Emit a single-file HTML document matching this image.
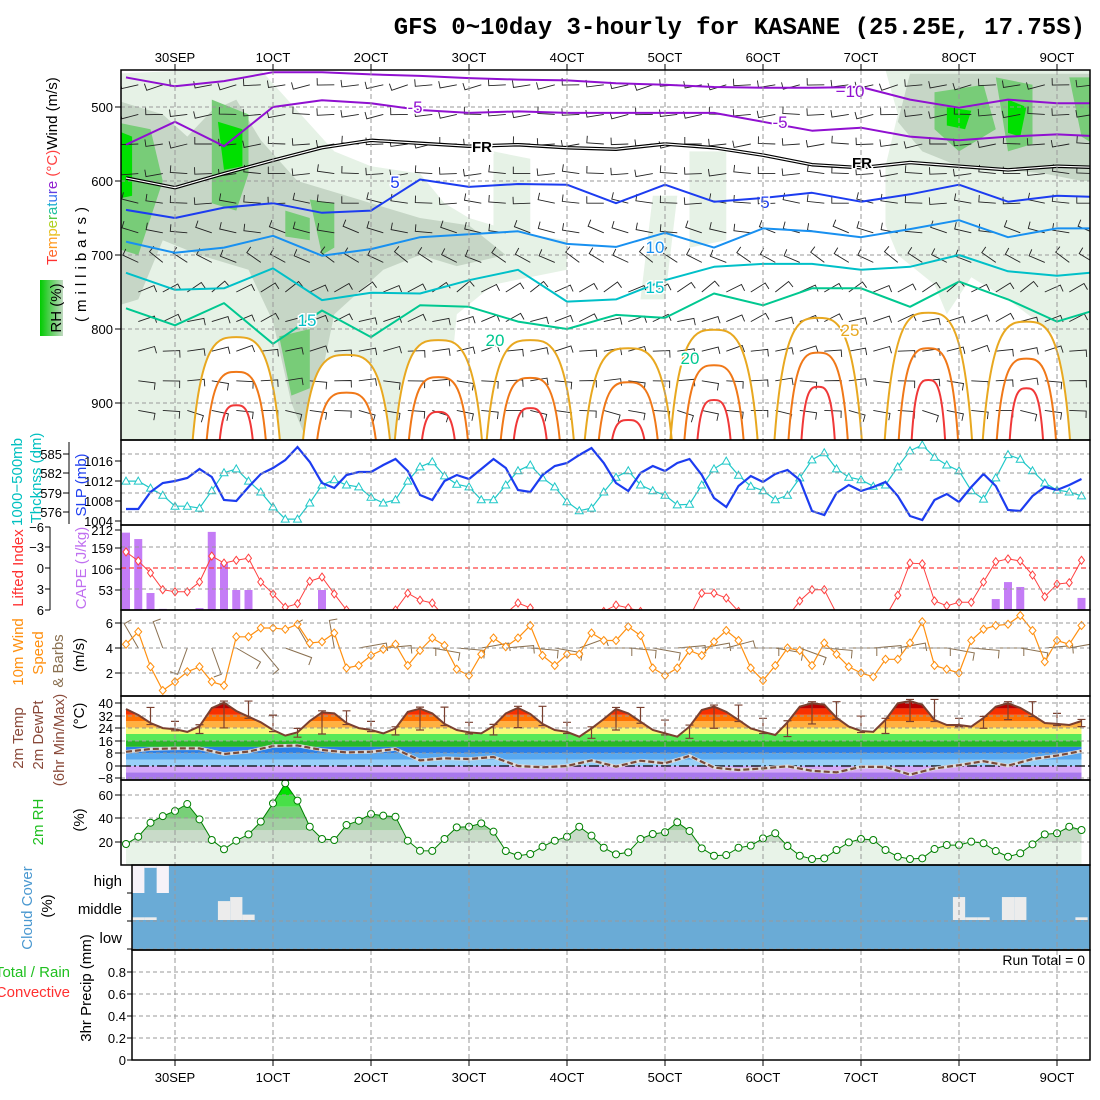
<!DOCTYPE html>
<html><head><meta charset="utf-8"><title>GFS meteogram KASANE</title>
<style>
html,body{margin:0;padding:0;background:#fff;}
svg{display:block;font-family:"Liberation Sans",sans-serif;}
.tk{font-size:13px;fill:#000;}
.lab{font-size:15px;}
</style></head>
<body>
<svg id="chart" xmlns="http://www.w3.org/2000/svg" width="1100" height="1100" viewBox="0 0 1100 1100">
<defs>
<clipPath id="cTop"><rect x="121" y="70" width="969" height="370"/></clipPath>
<clipPath id="cSlp"><rect x="121" y="440" width="969" height="85"/></clipPath>
<clipPath id="cCape"><rect x="121" y="525" width="969" height="85"/></clipPath>
<clipPath id="cWind"><rect x="121" y="610" width="969" height="86"/></clipPath>
<clipPath id="cTemp"><rect x="121" y="696" width="969" height="84"/></clipPath>
<clipPath id="cRh"><rect x="121" y="780" width="969" height="85"/></clipPath>
<linearGradient id="rhg" x1="0" x2="1" y1="0" y2="0"><stop offset="0" stop-color="#00cc00"/><stop offset="0.5" stop-color="#60d060"/><stop offset="1" stop-color="#c0d8c0"/></linearGradient>
</defs>
<rect x="0" y="0" width="1100" height="1100" fill="#fff"/>
<text x="1085" y="34" text-anchor="end" style="font-family:'Liberation Mono',monospace;font-size:24px;font-weight:bold;">GFS 0~10day 3-hourly for KASANE (25.25E, 17.75S)</text>

<g id="gTop" clip-path="url(#cTop)"></g>
<g id="gSlp" clip-path="url(#cSlp)"></g>
<g id="gCape" clip-path="url(#cCape)"></g>
<g id="gWind" clip-path="url(#cWind)"></g>
<g id="gTemp" clip-path="url(#cTemp)"></g>
<g id="gRh" clip-path="url(#cRh)"></g>
<g id="gCloud"></g>
<g id="gGrid"></g>
<g id="gOver"></g>
<g id="gFrames"></g>
<g id="gTicks"></g>

<text class="lab" transform="translate(57,265) rotate(-90)"><tspan fill="#ff3030">T</tspan><tspan fill="#ff6a30">e</tspan><tspan fill="#ff9a20">m</tspan><tspan fill="#e8c020">p</tspan><tspan fill="#b0d020">e</tspan><tspan fill="#50c840">r</tspan><tspan fill="#20c0a0">a</tspan><tspan fill="#20b0d0">t</tspan><tspan fill="#3070f0">u</tspan><tspan fill="#6040e0">r</tspan><tspan fill="#9020d0">e</tspan><tspan fill="#ff4040"> (°C)</tspan><tspan fill="#000">Wind (m/s)</tspan></text>
<rect x="40" y="280" width="23" height="56" fill="url(#rhg)"/>
<text class="lab" transform="translate(61,308) rotate(-90)" text-anchor="middle" fill="#000">RH (%)</text>
<text class="lab" transform="translate(86,262) rotate(-90)" text-anchor="middle" fill="#000" style="letter-spacing:5px">(millibars)</text>

<text class="lab" transform="translate(22,482) rotate(-90)" text-anchor="middle" fill="#00c0c0">1000−500mb</text>
<text class="lab" transform="translate(41,478) rotate(-90)" text-anchor="middle" fill="#00c0c0">Thcknss (dm)</text>
<text class="lab" transform="translate(86,485) rotate(-90)" text-anchor="middle" fill="#2040f0">SLP (mb)</text>
<text class="lab" transform="translate(23,568) rotate(-90)" text-anchor="middle" fill="#ff3030">Lifted Index</text>
<text class="lab" transform="translate(86,568) rotate(-90)" text-anchor="middle" fill="#c070f0">CAPE (J/kg)</text>
<text class="lab" transform="translate(23,652) rotate(-90)" text-anchor="middle" fill="#ff9010">10m Wind</text>
<text class="lab" transform="translate(43,653) rotate(-90)" text-anchor="middle" fill="#ff9010">Speed</text>
<text class="lab" transform="translate(63,661) rotate(-90)" text-anchor="middle" fill="#8a7050">&amp; Barbs</text>
<text class="lab" transform="translate(84,655) rotate(-90)" text-anchor="middle" fill="#000">(m/s)</text>
<text class="lab" transform="translate(23,738) rotate(-90)" text-anchor="middle" fill="#8a4a3a">2m Temp</text>
<text class="lab" transform="translate(43,735) rotate(-90)" text-anchor="middle" fill="#8a4a3a">2m DewPt</text>
<text class="lab" transform="translate(64,740) rotate(-90)" text-anchor="middle" fill="#8a4a3a">(6hr Min/Max)</text>
<text class="lab" transform="translate(84,716) rotate(-90)" text-anchor="middle" fill="#000">(°C)</text>
<text class="lab" transform="translate(43,822) rotate(-90)" text-anchor="middle" fill="#20c020">2m RH</text>
<text class="lab" transform="translate(84,820) rotate(-90)" text-anchor="middle" fill="#000">(%)</text>
<text class="lab" transform="translate(32,908) rotate(-90)" text-anchor="middle" fill="#4a98d0">Cloud Cover</text>
<text class="lab" transform="translate(52,906) rotate(-90)" text-anchor="middle" fill="#000">(%)</text>
<text class="lab" x="70" y="977" text-anchor="end" fill="#20c020">Total / Rain</text>
<text class="lab" x="70" y="997" text-anchor="end" fill="#ff3030">Convective</text>
<text class="lab" transform="translate(91,988) rotate(-90)" text-anchor="middle" fill="#000">3hr Precip (mm)</text>
<text class="tk" x="1085" y="965" text-anchor="end" style="font-size:14px">Run Total = 0</text>
<text class="tk" x="122" y="886" text-anchor="end" style="font-size:15px">high</text>
<text class="tk" x="122" y="914" text-anchor="end" style="font-size:15px">middle</text>
<text class="tk" x="122" y="943" text-anchor="end" style="font-size:15px">low</text>
</svg>

<script>
const dayLabels = ['30SEP','1OCT','2OCT','3OCT','4OCT','5OCT','6OCT','7OCT','8OCT','9OCT'];
const slp = [1006.4,1006.4,1009.8,1011.6,1012,1012.6,1014.4,1012.8,1008.2,1008,
1010.8,1013.4,1014.6,1016.2,1018.8,1015.8,1011.6,1010.6,1013.2,1013.8,
1013.8,1015.2,1016.4,1014,1009.2,1008.2,1012,1013.2,1012.4,1014.4,
1016.4,1014.6,1010.2,1009.8,1013.2,1015,1015.6,1017.2,1018.6,1015.6,
1011.6,1010,1013.6,1015,1014,1015.6,1016.4,1013.2,1008.6,1006.8,
1011,1013,1011.8,1013.4,1014.2,1012.2,1006,1005.2,1009.6,1011.2,
1010,1010.8,1011.8,1009,1005,1004.2,1008.2,1009.4,1007.8,1010.8,
1013.4,1011,1006.2,1006,1009,1010.8,1010.2,1011.2,1012.4];
const thick = [580.8,580.8,579.7,578.6,576.9,576.9,576.6,579.3,582.1,582.7,
580.8,579.1,576.8,574.9,574.9,577.4,580.2,581,580.2,579.9,
578.3,577.4,577.9,580.8,583,583.8,581.6,580.3,579.9,577.9,
577.9,580.2,582.4,583.3,581.3,579.9,577.6,576.2,576.6,579.1,
581.4,582.4,580.2,579.3,578.6,577.1,577.2,580.2,582.7,583.9,
581.7,580,579.3,577.9,578.6,581.3,584.1,585.2,582.7,581.4,
581,580,580.2,583,585.5,586.4,584.5,583.3,582.4,579.3,
578,581.3,584.9,584.2,582.4,580.5,579.4,579.1,578.5];
const liftedIndex = [-2.3,-1,0.7,3.1,3.4,3.4,2,-1.7,-0.7,-1.1,
-1.4,2,3.7,5.6,5.1,1.9,1.3,3.7,6,7,
7,7,6,3.6,4.6,5,7,7,7,7,
7,6.5,5,5.7,7,7,7,7,7,6.2,
5.3,5.7,6.2,7,7,7,7,3.6,3.6,4.3,
6.2,7,7,7,7,4.7,3.1,3.1,6.5,7,
7,7,7,3.9,-0.7,-0.6,4.7,5.4,4.9,4.9,
2,-0.9,-1.3,-1,1,4.1,2.3,2.1,-1.1];
const cape = [205,188,45,3,0,0,5,207,125,53,
53,0,0,0,0,0,53,0,0,0,
0,0,0,0,0,0,0,0,0,0,
0,0,0,0,0,0,0,0,0,0,
0,0,0,0,0,0,0,0,0,0,
0,0,0,0,0,0,0,0,0,0,
0,0,0,0,0,0,0,0,0,0,
0,29,74,61,0,0,0,0,32];
const windSpeed = [4.3,5.3,2.5,0.6,1.3,2.1,2.5,1.3,1,4.9,
4.9,5.6,5.6,5.5,5.9,4.4,4.5,5.2,2.4,2.6,
3.4,3.9,4.3,2.6,3.8,4.8,4.2,2.3,1.8,3.5,
4.8,4.1,4.8,5.8,3.4,2.6,3.5,3.5,5.2,4.6,
4.6,5.7,5,2.4,1.8,2.4,3.8,3.4,4.5,5.4,
4.6,2.4,1.4,2.6,4,3.8,2.6,4.4,3.5,2.5,
2,1.7,3.1,3.1,4.4,6.1,2.6,2.3,2,4.6,
5.5,5.8,5.9,6.6,5.4,2.9,4.6,4.3,5.8];
const windDir10m = [330,340,200,160,120,140,110,330,350,80,85,90,100,95,80,85,95,100,70,90,
95,100,85,80,75,90,100,110,95,90,85,80,90,100,95,90,100,85,80,75];
const temp2m = [35.6,31.9,26.9,23.7,23,21.3,24.8,36.2,39.6,34.4,
30.8,27.3,22.5,19,21,28.1,33.5,32.9,26.9,23.7,
22.5,20.4,23.5,33.8,35.8,32.9,26.3,22.5,21,20.4,
25,32.9,36.3,32.5,26.3,22.5,21.3,18.3,23.5,29.4,
35.6,32.9,27.7,22.5,20.4,18.3,24.6,35,37.1,33.8,
28.8,23.5,21.3,19.4,27.3,37.1,39.2,38.3,30.2,24.6,
21.9,21.3,28.8,39.2,40.6,38.3,28.8,25.6,25.6,24.6,
30,37.1,39.2,36.3,31.9,26.9,26.3,25.6,28.1];
const dewpt6h = [8.9,10.6,11,11,7.5,9,12.5,12.8,10,8.5,8.9,10.6,3.5,4.8,4.4,5.6,0,-0.8,0,3.5,
-0.4,3.3,1.7,6.3,-1,-2.5,-1.5,-0.2,-3,-4,-0.5,-0.6,-5.4,-1.5,0.5,3,0.2,4.4,6.5,9.4];
const rh2m = [18.3,24.5,36.4,42,46.4,52.3,39.3,21.7,13.8,21.1,
26.5,37.3,52.9,70,55.2,33,22.6,21.7,34.5,38.1,
43.8,42.4,41.5,21.1,12.6,12.4,22.6,32.5,33,35.9,
28.8,12.3,8.3,9.8,16,21.1,24.5,33,25.4,15.1,
9.5,11.2,22.6,26.8,28.3,36.8,29.4,14.6,8.3,8.9,
15.1,16.9,23.1,27.4,16.6,8.3,5.5,6.1,13.2,19.7,
22.6,21.7,13.2,7.5,5.5,6.1,14,17.4,17.4,20.3,
18.9,12.3,7.5,10.4,18,26.5,27.4,33,30.2];
const cloudHighIdx = [1,2,3];
const cloudHighGap = [1,0.1,1];
const cloudMidIdx = [1,2,8,9,10,68,69,70,72,73,78];
const cloudMidGap = [0.1,0.1,0.7,0.85,0.2,0.85,0.1,0.1,0.85,0.85,0.1];
const isoM10 = [460,472,465,453,453,456,458,461,463,464,468,470,473,474,474,473,490,501,490,495,495];
const isoM5 = [551,520,553,500,491,495,504,508,506,508,508,508,508,520,532,528,540,545,540,537,540];
const isoFR = [596,609,590,572,555,545,549,553,551,555,557,550,555,565,578,582,575,580,585,580,582];
const iso5 = [639,650,636,630,643,640,598,608,604,605,630,605,628,623,616,628,618,605,628,620,622];
const iso10 = [682,697,690,674,701,692,676,672,668,685,689,670,690,664,668,676,665,653,676,664,664];
const iso15 = [724,747,745,718,761,751,752,734,720,763,760,734,716,712,712,720,716,700,722,728,722];
const iso20 = [772,795,765,820,775,811,768,770,790,800,781,785,752,768,745,745,770,736,760,790,770];
const archCenter = [9,18,25.5,33,41,48,56.5,65.5,73.5];
const arch25Top = [811,835,815,815,826,801,785,778,790];
const arch30Top = [858,886,865,866,872,849,832,826,840];
const arch35Top = [903,960,912,907,923,896,878,869,880];
const rhLight = [[[-1,455],[6,450],[11,450],[14,505],[17,560],[20,580],[24,590],[26,630],[28,650],[32,670],[36,680],[36,720],[30,740],[27,780],[26,950],[-1,950]],
 [[62,450],[80,450],[80,950],[77,950],[76,810],[72,760],[69,730],[67,780],[66,740],[63,700],[62,660],[62,580],[63,510]],
 [[30,560],[33,570],[33,690],[30,680]],[[46,560],[49,560],[49,680],[46,690]],[[43,620],[45,620],[44,760],[42,760]]];
const rhGray = [[[-1,490],[3,510],[5,540],[7,505],[9,490],[11,545],[14,600],[18,620],[22,640],[24,650],[28,660],[31,700],[27,715],[24,700],[21,720],[19,750],[17,780],[16,860],[14.5,940],[13.5,900],[12,790],[10,720],[6,700],[3,680],[1,760],[-1,770]],
 [[64,455],[80,455],[80,600],[78,600],[75,590],[72,585],[68,580],[65,560],[63,520]]];
const rhGreen = [[[-1,520],[2,530],[3,600],[1,700],[-1,690]],[[7,490],[10,510],[10,590],[9,640],[7,630]],[[13,640],[15,650],[15,680],[13,675]],[[15,625],[17,630],[17,690],[16,700]],[[12.5,810],[15,800],[15,880],[13.5,890]],
 [[66,480],[70,470],[71,530],[68,560],[66,530]],[[71,460],[74,470],[74,550],[72,560]],[[77,460],[80,460],[80,560],[78,540]]];
const rhBright = [[[-1,530],[0.5,540],[0.5,620],[-1,625]],[[7.5,520],[9.5,530],[9.5,580],[8,585]],[[67,500],[69,505],[68.5,530],[67,525]],[[72,490],[73.5,500],[73,540],[72,535]]];
const barbLevels = [470,510,550,590,630,670,710,750,790,830,870,910];
const barbDirs = [260,265,265,270,275,285,300,60,70,80,90,100];

const NS='http://www.w3.org/2000/svg';
const xs = i => 126 + 12.25*i;
const py = p => 70 + (p-450)*0.74;
const ySlp = p => 521 - (p-1004)*5;
const yThk = t => 512 - (t-576)*6.44;
const yLI = v => 568 + v*7;
const yCape = c => 610 - c*80/212;
const yWs = s => 648 - (s-4)*12.5;
const yT = t => 766 - t*1.6;
const yRh = r => 842 - (r-20)*1.175;

function mk(tag, attrs, parent){
  const e = document.createElementNS(NS, tag);
  for (const k in attrs) e.setAttribute(k, attrs[k]);
  parent.appendChild(e);
  return e;
}
const G = id => document.getElementById(id);
const gTop=G('gTop'), gSlp=G('gSlp'), gCape=G('gCape'), gWind=G('gWind'), gTemp=G('gTemp'), gRh=G('gRh'), gCloud=G('gCloud'), gGrid=G('gGrid'), gOver=G('gOver'), gFrames=G('gFrames'), gTicks=G('gTicks');
const pts = (arr, fx, fy) => arr.map((v,i)=>fx(i).toFixed(1)+','+fy(v).toFixed(1)).join(' ');

function region(list, color, name){
  list.forEach(poly=>{
    const e = mk('polygon',{points: poly.map(q=>xs(q[0]).toFixed(1)+','+py(q[1]).toFixed(1)).join(' '), fill: color}, gTop);
    
    
  });
}
region(rhLight,'#e6f2e6','rh-shade-light');
region(rhGray,'#c6d6c6','rh-shade-gray');
region(rhGreen,'#78cc78','rh-shade-green');
region(rhBright,'#00e000','rh-shade-bright');

function archD(c, top, w){
  const cx = xs(c), ty = py(top);
  return `M${cx-w},445 C${cx-w*0.8},${ty} ${cx-w*0.4},${ty} ${cx},${ty} C${cx+w*0.4},${ty} ${cx+w*0.8},${ty} ${cx+w},445`;
}
archCenter.forEach((c,k)=>{
  const f = mk('path',{d: archD(c, arch25Top[k], 44), fill:'#fff', stroke:'none'}, gTop);
  
  
});
[500,600,700,800,900].forEach(p=>{
  const l = mk('line',{x1:121,x2:1090,y1:py(p),y2:py(p),stroke:'#999','stroke-dasharray':'4,3','stroke-width':1}, gTop);
  
  
});
for (let i=1;i<=79;i+=2){
  barbLevels.forEach((p,j)=>{
    const d = (barbDirs[j] + ((i*7+j*13)%20) - 10)*Math.PI/180;
    const x0 = xs(i), y0 = py(p);
    const L = 17;
    const x1 = x0 + Math.sin(d)*L, y1 = y0 - Math.cos(d)*L;
    const tx = x1 + Math.sin(d+Math.PI/2)*7, ty = y1 - Math.cos(d+Math.PI/2)*7;
    const b = mk('path',{d:`M${x0.toFixed(1)},${y0.toFixed(1)} L${x1.toFixed(1)},${y1.toFixed(1)} L${tx.toFixed(1)},${ty.toFixed(1)}`, fill:'none', stroke:'#222','stroke-width':0.9}, gTop);
    
    
  });
}
function arches(tops, color, w, name){
  archCenter.forEach((c,k)=>{
    if (tops[k] >= 945) return;
    const a = mk('path',{d: archD(c, tops[k], w), fill:'none', stroke: color, 'stroke-width':2}, gTop);
    
    
  });
}
arches(arch25Top,'#e8a820',44,'isotherm-25');
arches(arch30Top,'#f07818',30,'isotherm-30');
arches(arch35Top,'#f03838',17,'isotherm-35');
function iso(arr, color, name, w){
  const l = mk('polyline',{points: pts(arr, k=>xs(4*k), py), fill:'none', stroke: color, 'stroke-width': w||2, 'stroke-linejoin':'round'}, gTop);
  
  
  return l;
}
iso(isoM10,'#9010d0','isotherm-minus10');
iso(isoM5,'#9010d0','isotherm-minus5');
iso(isoFR,'#000','freezing-level',3.5);
iso(isoFR,'#fff','freezing-level-inner',1.2);
iso(iso5,'#1c3cf0','isotherm-5');
iso(iso10,'#1890f0','isotherm-10');
iso(iso15,'#00c0c8','isotherm-15');
iso(iso20,'#00c890','isotherm-20');
const isoLabels = [['-5',415,113,'#9010d0'],['−10',850,97,'#9010d0'],['-5',780,128,'#9010d0'],['FR',482,152,'#000'],['FR',862,168,'#000'],['5',395,188,'#1c3cf0'],['5',765,208,'#1c3cf0'],['10',655,253,'#1890f0'],['15',655,293,'#00c0c8'],['15',307,326,'#00c0c8'],['20',495,346,'#00c890'],['20',690,364,'#00c890'],['25',850,336,'#e8a820']];
isoLabels.forEach(q=>{
  const t = mk('text',{x:q[1],y:q[2],'text-anchor':'middle',fill:q[3],'font-size':q[0]==='FR'?15:17,'font-weight':q[0]==='FR'?'bold':'normal',stroke:'#fff','stroke-width':3,'paint-order':'stroke'}, gTop);
  t.textContent = q[0];
  
  
});

const thkLine = mk('polyline',{points: pts(thick, xs, yThk), fill:'none', stroke:'#20c8c8','stroke-width':1.2}, gSlp);


thick.forEach((v,i)=>{
  const x=xs(i), y=yThk(v);
  const m = mk('polygon',{points:`${x},${y-4} ${x-4},${y+3} ${x+4},${y+3}`, fill:'#fff', stroke:'#20c8c8','stroke-width':1}, gSlp);
  
  
});
const slpLine = mk('polyline',{points: pts(slp, xs, ySlp), fill:'none', stroke:'#1c3cf0','stroke-width':2.2}, gSlp);



cape.forEach((v,i)=>{
  if (v<=0) return;
  const r = mk('rect',{x:xs(i)-4,y:yCape(v),width:8,height:610-yCape(v),fill:'#c47cf6'}, gCape);
  
  
});
const liZero = mk('line',{x1:121,x2:1090,y1:yLI(0),y2:yLI(0),stroke:'#ff4040','stroke-dasharray':'5,3','stroke-width':1.2}, gCape);


const liLine = mk('polyline',{points: pts(liftedIndex, xs, yLI), fill:'none', stroke:'#ff4040','stroke-width':1}, gCape);


liftedIndex.forEach((v,i)=>{
  if (v>6.3) return;
  const x=xs(i), y=yLI(v);
  const m = mk('polygon',{points:`${x},${y-4} ${x+3},${y} ${x},${y+4} ${x-3},${y}`, fill:'#fff', stroke:'#ff4040','stroke-width':1}, gCape);
  
  
});

windDir10m.forEach((dg,k)=>{
  const d = dg*Math.PI/180, x0 = xs(2*k+1), y0 = 648;
  const L=28;
  const x1 = x0 + Math.sin(d)*L, y1 = y0 - Math.cos(d)*L;
  const tx = x1 + Math.sin(d+Math.PI/2)*8, ty = y1 - Math.cos(d+Math.PI/2)*8;
  const b = mk('path',{d:`M${x0.toFixed(1)},${y0} L${x1.toFixed(1)},${y1.toFixed(1)} L${tx.toFixed(1)},${ty.toFixed(1)}`, fill:'none', stroke:'#8a7050','stroke-width':1}, gWind);
  
  
});
const wsLine = mk('polyline',{points: pts(windSpeed, xs, yWs), fill:'none', stroke:'#ff9010','stroke-width':1.2}, gWind);


windSpeed.forEach((v,i)=>{
  const x=xs(i), y=yWs(v);
  const m = mk('polygon',{points:`${x},${y-4} ${x+3.5},${y} ${x},${y+4} ${x-3.5},${y}`, fill:'#fff', stroke:'#ff9010','stroke-width':1}, gWind);
  
  
});

const tBands = [[-12,-4,'#a878ec'],[-4,0,'#d6a8f8'],[0,4,'#98d0f8'],[4,8,'#58a8f0'],[8,12,'#2c80e8'],[12,16,'#28b828'],[16,20,'#58e858'],[20,24,'#f8f878'],[24,28,'#ffb040'],[28,32,'#ff7000'],[32,36,'#f83000'],[36,50,'#b80000']];
const defs = document.querySelector('defs');
const tClip = mk('clipPath',{id:'tArea'}, defs);
const tAreaPts = pts(temp2m, xs, yT) + ` ${xs(78)},790 ${xs(0)},790`;
const tPoly = mk('polygon',{points:tAreaPts}, tClip);


const tBandG = mk('g',{'clip-path':'url(#tArea)'}, gTemp);


tBands.forEach(b=>{
  const r = mk('rect',{x:121,y:yT(b[1]),width:969,height:yT(b[0])-yT(b[1]),fill:b[2]}, tBandG);
  
  
});
[703,716,728,741,753,778].forEach(y=>{
  const l = mk('line',{x1:121,x2:1090,y1:y,y2:y,stroke:'#999','stroke-dasharray':'4,3'}, gTemp);
  
  
});
const zl = mk('line',{x1:121,x2:1090,y1:yT(0),y2:yT(0),stroke:'#000','stroke-dasharray':'10,3,2,3','stroke-width':1.3}, gTemp);


const tLine = mk('polyline',{points: pts(temp2m, xs, yT), fill:'none', stroke:'#7a4030','stroke-width':2}, gTemp);


for (let i=2;i<temp2m.length;i+=2){
  const hi = Math.max(temp2m[i-2],temp2m[i-1],temp2m[i]) + 1, lo = Math.min(temp2m[i-2],temp2m[i-1],temp2m[i]) - 1;
  const x = xs(i);
  const e = mk('path',{d:`M${x},${yT(hi)} V${yT(lo)} M${x-4},${yT(hi)} H${x+4} M${x-4},${yT(lo)} H${x+4}`, stroke:'#7a4030','stroke-width':1.2, fill:'none'}, gTemp);
  
  
}
const dpUnder = mk('polyline',{points: pts(dewpt6h, k=>xs(2*k), yT), fill:'none', stroke:'#ddd','stroke-width':3.5}, gTemp);


const dpLine = mk('polyline',{points: pts(dewpt6h, k=>xs(2*k), yT), fill:'none', stroke:'#7a4a3a','stroke-width':2.2,'stroke-dasharray':'6,3'}, gTemp);



const rClip = mk('clipPath',{id:'rArea'}, defs);
const rPoly = mk('polygon',{points: pts(rh2m, xs, yRh) + ` ${xs(78)},865 ${xs(0)},865`}, rClip);


const rBands = [[0,20,'#e8f3e8'],[20,30,'#c9dbc9'],[30,40,'#a3d0a3'],[40,50,'#78d078'],[50,60,'#48e048'],[60,100,'#00e000']];
const rBandG = mk('g',{'clip-path':'url(#rArea)'}, gRh);


rBands.forEach(b=>{
  const r = mk('rect',{x:121,y:yRh(b[1]),width:969,height:yRh(b[0])-yRh(b[1]),fill:b[2]}, rBandG);
  
  
});
[795,818,842].forEach(y=>{
  const l = mk('line',{x1:121,x2:1090,y1:y,y2:y,stroke:'#999','stroke-dasharray':'4,3'}, gRh);
  
  
});
const rhLine = mk('polyline',{points: pts(rh2m, xs, yRh), fill:'none', stroke:'#008000','stroke-width':1}, gRh);


rh2m.forEach((v,i)=>{
  const c = mk('circle',{cx:xs(i),cy:yRh(v),r:3.5,fill:'#fff',stroke:'#008000','stroke-width':1}, gRh);
  
  
});

const cb = mk('rect',{x:132,y:865,width:958,height:85,fill:'#6aabd6'}, gCloud);


cloudHighIdx.forEach((i,k)=>{
  const h = 28*cloudHighGap[k];
  const r = mk('rect',{x:Math.max(132,xs(i)-6.1),y:865,width:12.25,height:h,fill:'#f6f2f8'}, gCloud);
  
  
});
cloudMidIdx.forEach((i,k)=>{
  const h = 27*cloudMidGap[k];
  const r = mk('rect',{x:Math.max(132,xs(i)-6.1),y:920-h,width:12.25,height:h,fill:'#ececec'}, gCloud);
  
  
});
[921,949].forEach(y=>{
  const l = mk('line',{x1:132,x2:1090,y1:y,y2:y,stroke:'#999','stroke-dasharray':'4,3'}, gCloud);
  
  
});

dayLabels.forEach((lab,d)=>{
  const x = 175 + 98*d;
  const l = mk('line',{x1:x,x2:x,y1:70,y2:1060,stroke:'#999','stroke-dasharray':'5,3','stroke-width':1}, gGrid);
  
  
  const t1 = mk('text',{x:x,y:62,'text-anchor':'middle',class:'tk','font-size':14}, gTicks);
  t1.textContent = lab;
  
  
  const t2 = mk('text',{x:x,y:1082,'text-anchor':'middle',class:'tk','font-size':14}, gTicks);
  t2.textContent = lab;
  
  
  const k1 = mk('line',{x1:x,x2:x,y1:64,y2:70,stroke:'#000'}, gTicks);
  
  
  const k2 = mk('line',{x1:x,x2:x,y1:1060,y2:1066,stroke:'#000'}, gTicks);
  
  
});
[454,473,493,512,547,589,623,648,673].forEach(y=>{
  const l = mk('line',{x1:121,x2:1090,y1:y,y2:y,stroke:'#999','stroke-dasharray':'4,3'}, gGrid);
  
  
});
[972,994,1016,1038].forEach(y=>{
  const l = mk('line',{x1:132,x2:1090,y1:y,y2:y,stroke:'#999','stroke-dasharray':'4,3'}, gGrid);
  
  
});

[[121,70,969,370,'cross-section-frame'],[121,440,969,85,'slp-frame'],[121,525,969,85,'cape-frame'],[121,610,969,86,'wind-frame'],[121,696,969,84,'temp-frame'],[121,780,969,85,'rh-frame'],[132,865,958,85,'cloud-frame'],[132,950,958,110,'precip-frame']].forEach(f=>{
  const r = mk('rect',{x:f[0],y:f[1],width:f[2],height:f[3],fill:'none',stroke:'#000','stroke-width':1.5}, gFrames);
  
  
});

const tickSets = [
 [['500',107],['600',181],['700',255],['800',329],['900',403]],
 [['1016',461],['1012',481],['1008',501],['1004',521]],
 [['212',530],['159',548],['106',569],['53',590]],
 [['6',623],['4',648],['2',673]],
 [['40',703],['32',716],['24',728],['16',741],['8',753],['0',766],['−8',778]],
 [['60',795],['40',818],['20',842]]
];
tickSets.forEach(set=>set.forEach(q=>{
  const t = mk('text',{x:113,y:q[1]+5,'text-anchor':'end',class:'tk'}, gTicks);
  t.textContent = q[0];
  
  
  const k = mk('line',{x1:115,x2:121,y1:q[1],y2:q[1],stroke:'#000'}, gTicks);
  
  
}));
[['585',454],['582',473],['579',493],['576',512]].forEach(q=>{
  const t = mk('text',{x:62,y:q[1]+5,'text-anchor':'end',class:'tk'}, gTicks);
  t.textContent = q[0];
  
  
  const k = mk('line',{x1:63,x2:69,y1:q[1],y2:q[1],stroke:'#000'}, gTicks);
  
  
});
const ta = mk('line',{x1:69,x2:69,y1:442,y2:524,stroke:'#000'}, gTicks);


[['−6',527],['−3',547],['0',568],['3',589],['6',610]].forEach(q=>{
  const t = mk('text',{x:44,y:q[1]+5,'text-anchor':'end',class:'tk'}, gTicks);
  t.textContent = q[0];
  
  
  const k = mk('line',{x1:45,x2:50,y1:q[1],y2:q[1],stroke:'#000'}, gTicks);
  
  
});
const la = mk('line',{x1:50,x2:50,y1:527,y2:610,stroke:'#000'}, gTicks);


[['0.8',972],['0.6',994],['0.4',1016],['0.2',1038],['0',1060]].forEach(q=>{
  const t = mk('text',{x:126,y:q[1]+5,'text-anchor':'end',class:'tk'}, gTicks);
  t.textContent = q[0];
  
  
  const k = mk('line',{x1:127,x2:132,y1:q[1],y2:q[1],stroke:'#000'}, gTicks);
  
  
});
[865,893,921,949].forEach(y=>{
  const k = mk('line',{x1:127,x2:132,y1:y,y2:y,stroke:'#000'}, gTicks);
  
  
});
</script>
</body></html>
